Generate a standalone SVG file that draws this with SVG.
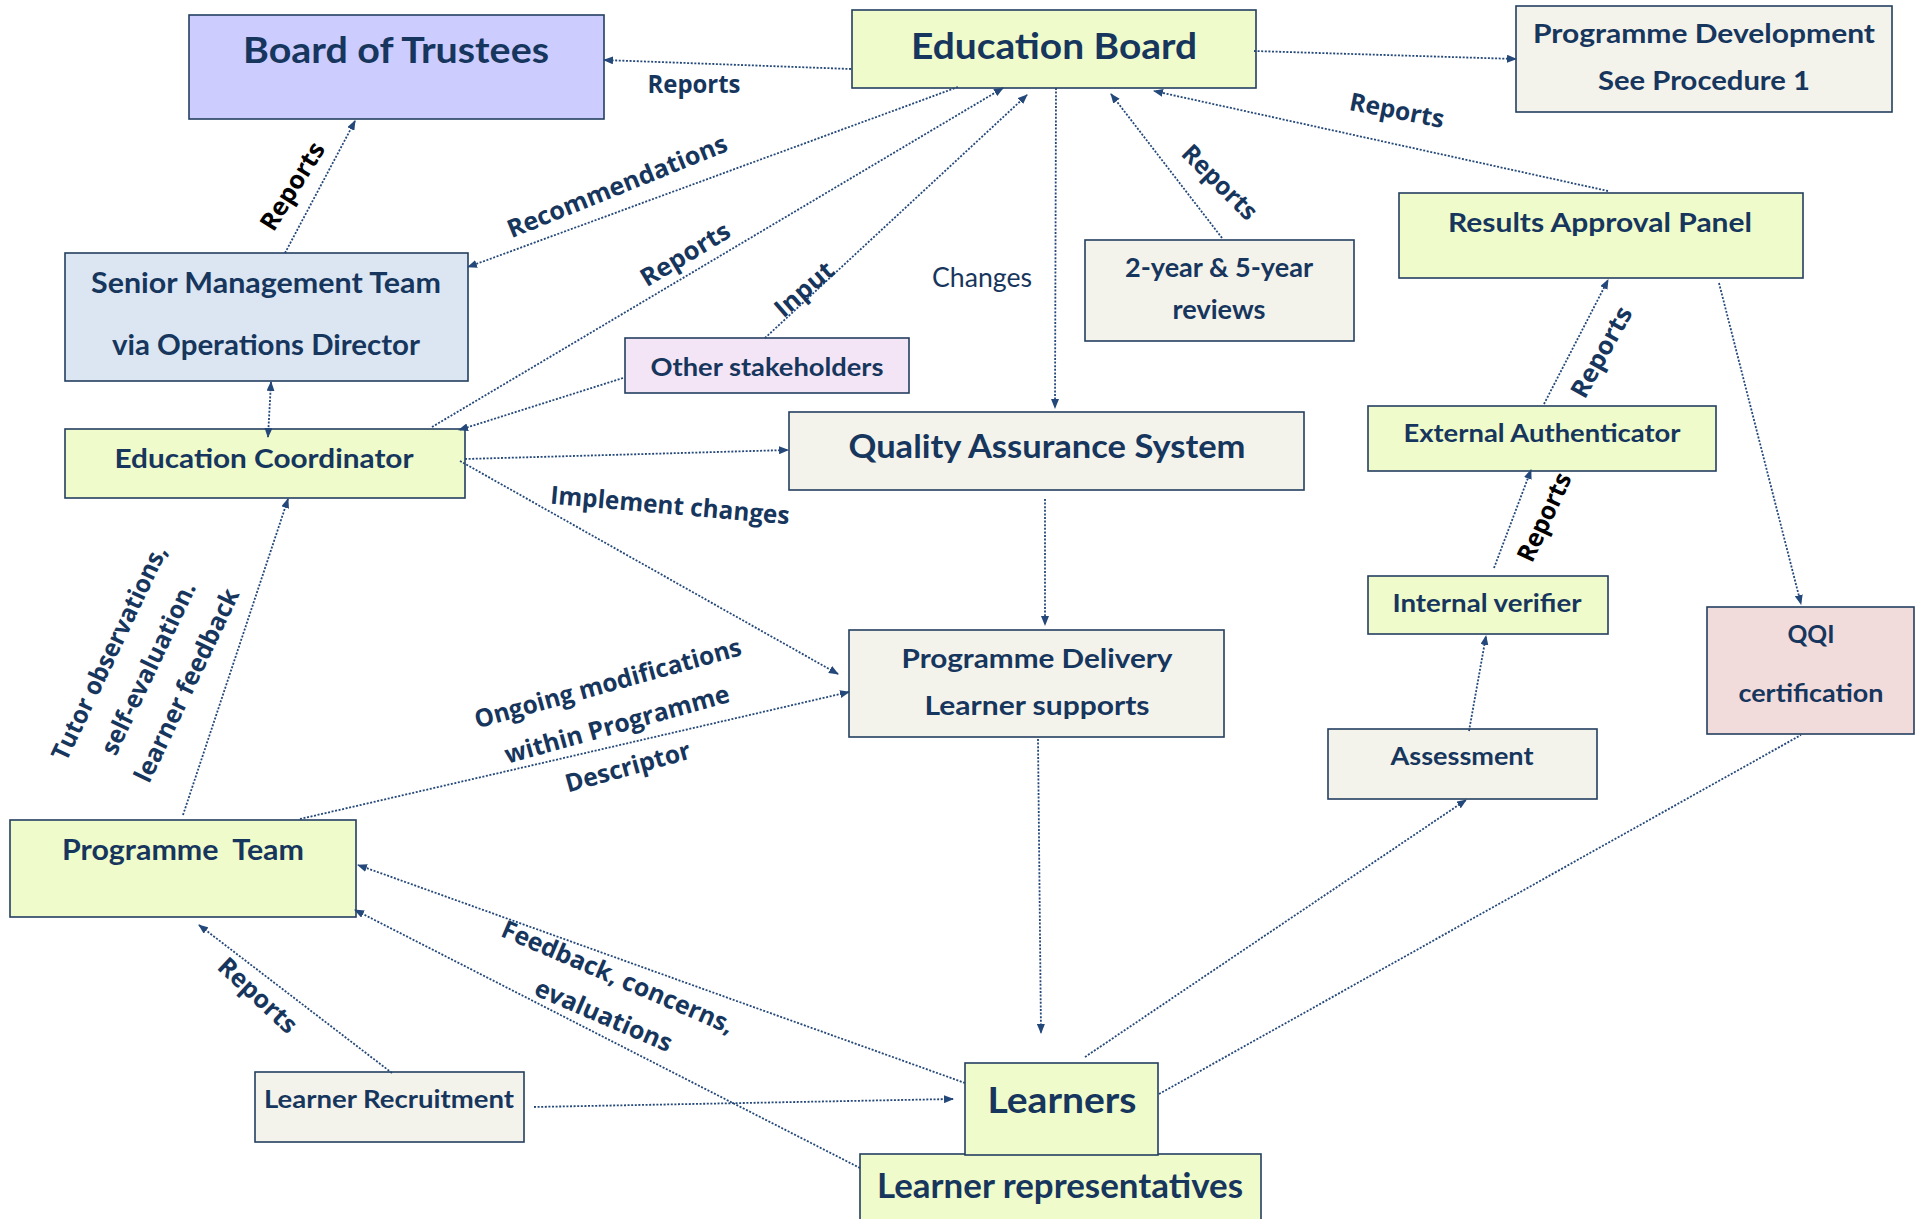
<svg xmlns="http://www.w3.org/2000/svg" width="1915" height="1219" viewBox="0 0 1915 1219">
<defs>
<style>
.box{stroke:#243f60;stroke-width:1.6}
.yg{fill:#f0fbcb}
.bg{fill:#f4f3eb}
.t{font-family:Lato,"Liberation Sans",sans-serif;font-weight:700;fill:#17365d;text-anchor:middle}
.lb{font-family:"Open Sans","Liberation Sans",sans-serif;font-weight:700;font-size:25px;fill:#17365d;text-anchor:middle}
.blk{fill:#000}
.c{fill:none;stroke:#24487a;stroke-width:1.8;stroke-dasharray:2 1.6}
.a{marker-end:url(#ah)}
</style>
<marker id="ah" markerUnits="userSpaceOnUse" markerWidth="10" markerHeight="8" refX="9" refY="4" orient="auto-start-reverse">
<path d="M0,0 L10,4 L0,8 z" fill="#24487a"/>
</marker>
</defs>
<rect width="1915" height="1219" fill="#ffffff"/>

<g id="board-of-trustees">
<rect class="box" x="189" y="15" width="415" height="104" fill="#ccccff"/>
<text class="t" x="396" y="63" font-size="37" textLength="306" lengthAdjust="spacingAndGlyphs">Board of Trustees</text>
</g>
<g id="education-board">
<rect class="box yg" x="852" y="10" width="404" height="78"/>
<text class="t" x="1054" y="59" font-size="37" textLength="286" lengthAdjust="spacingAndGlyphs">Education Board</text>
</g>
<g id="programme-development">
<rect class="box bg" x="1516" y="6" width="376" height="106"/>
<text class="t" x="1704" y="43" font-size="27" textLength="342" lengthAdjust="spacingAndGlyphs">Programme Development</text>
<text class="t" x="1704" y="90" font-size="27" textLength="212" lengthAdjust="spacingAndGlyphs">See Procedure 1</text>
</g>
<g id="senior-management-team">
<rect class="box" x="65" y="253" width="403" height="128" fill="#dce6f2"/>
<text class="t" x="266" y="293" font-size="28" textLength="350" lengthAdjust="spacingAndGlyphs">Senior Management Team</text>
<text class="t" x="266" y="355" font-size="28" textLength="308" lengthAdjust="spacingAndGlyphs">via Operations Director</text>
</g>
<g id="education-coordinator">
<rect class="box yg" x="65" y="429" width="400" height="69"/>
<text class="t" x="264" y="468" font-size="27" textLength="299" lengthAdjust="spacingAndGlyphs">Education Coordinator</text>
</g>
<g id="other-stakeholders">
<rect class="box" x="625" y="338" width="284" height="55" fill="#f3e5f5"/>
<text class="t" x="767" y="376" font-size="25" textLength="233" lengthAdjust="spacingAndGlyphs">Other stakeholders</text>
</g>
<g id="quality-assurance-system">
<rect class="box bg" x="789" y="412" width="515" height="78"/>
<text class="t" x="1047" y="458" font-size="33" textLength="397" lengthAdjust="spacingAndGlyphs">Quality Assurance System</text>
</g>
<g id="reviews">
<rect class="box bg" x="1085" y="240" width="269" height="101"/>
<text class="t" x="1219" y="277" font-size="26" textLength="188" lengthAdjust="spacingAndGlyphs">2-year &amp; 5-year</text>
<text class="t" x="1219" y="319" font-size="26" textLength="93" lengthAdjust="spacingAndGlyphs">reviews</text>
</g>
<g id="results-approval-panel">
<rect class="box yg" x="1399" y="193" width="404" height="85"/>
<text class="t" x="1600" y="232" font-size="26" textLength="304" lengthAdjust="spacingAndGlyphs">Results Approval Panel</text>
</g>
<g id="external-authenticator">
<rect class="box yg" x="1368" y="406" width="348" height="65"/>
<text class="t" x="1542" y="442" font-size="25" textLength="277" lengthAdjust="spacingAndGlyphs">External Authenticator</text>
</g>
<g id="internal-verifier">
<rect class="box yg" x="1368" y="576" width="240" height="58"/>
<text class="t" x="1487" y="612" font-size="25" textLength="189" lengthAdjust="spacingAndGlyphs">Internal verifier</text>
</g>
<g id="qqi-certification">
<rect class="box" x="1707" y="607" width="207" height="127" fill="#f2dcdb"/>
<text class="t" x="1811" y="643" font-size="25" textLength="47" lengthAdjust="spacingAndGlyphs">QQI</text>
<text class="t" x="1811" y="702" font-size="25" textLength="145" lengthAdjust="spacingAndGlyphs">certification</text>
</g>
<g id="assessment">
<rect class="box bg" x="1328" y="729" width="269" height="70"/>
<text class="t" x="1462" y="765" font-size="24" textLength="143" lengthAdjust="spacingAndGlyphs">Assessment</text>
</g>
<g id="programme-delivery">
<rect class="box bg" x="849" y="630" width="375" height="107"/>
<text class="t" x="1037" y="668" font-size="27" textLength="271" lengthAdjust="spacingAndGlyphs">Programme Delivery</text>
<text class="t" x="1037" y="715" font-size="27" textLength="225" lengthAdjust="spacingAndGlyphs">Learner supports</text>
</g>
<g id="programme-team">
<rect class="box yg" x="10" y="820" width="346" height="97"/>
<text class="t" x="183" y="860" font-size="28" textLength="242" lengthAdjust="spacingAndGlyphs" xml:space="preserve">Programme  Team</text>
</g>
<g id="learner-recruitment">
<rect class="box bg" x="255" y="1072" width="269" height="70"/>
<text class="t" x="389" y="1108" font-size="25" textLength="250" lengthAdjust="spacingAndGlyphs">Learner Recruitment</text>
</g>
<g id="learner-representatives">
<rect class="box yg" x="860" y="1154" width="401" height="80"/>
<text class="t" x="1060" y="1198" font-size="34" textLength="366" lengthAdjust="spacingAndGlyphs">Learner representatives</text>
</g>
<g id="learners">
<rect class="box yg" x="965" y="1063" width="193" height="92"/>
<text class="t" x="1062" y="1113" font-size="36" textLength="149" lengthAdjust="spacingAndGlyphs">Learners</text>
</g>

<g id="connectors">
<path class="c a" d="M851,69 L604,60"/>
<path class="c a" d="M1254,51 L1516,59"/>
<path class="c a" d="M958,87 L468,267"/>
<path class="c a" d="M432,427 L1003,88"/>
<path class="c a" d="M765,338 L1027,95"/>
<path class="c a" d="M623,378 L459,430"/>
<path class="c a" d="M271,382 L268,437" marker-start="url(#ah)"/>
<path class="c a" d="M285,253 L355,121"/>
<path class="c a" d="M465,459 L788,450"/>
<path class="c a" d="M460,461 L838,674"/>
<path class="c a" d="M1056,88 L1055,408"/>
<path class="c a" d="M1045,499 L1045,625"/>
<path class="c a" d="M1038,739 L1041,1033"/>
<path class="c a" d="M183,815 L288,499"/>
<path class="c a" d="M300,819 L849,692"/>
<path class="c a" d="M965,1083 L358,865"/>
<path class="c a" d="M860,1168 L355,910"/>
<path class="c a" d="M392,1073 L199,925"/>
<path class="c a" d="M534,1107 L953,1099"/>
<path class="c a" d="M1085,1057 L1466,800"/>
<path class="c" d="M1159,1094 L1801,735"/>
<path class="c a" d="M1469,731 L1486,636"/>
<path class="c a" d="M1494,568 L1531,470"/>
<path class="c a" d="M1544,404 L1608,280"/>
<path class="c a" d="M1719,283 L1801,604"/>
<path class="c a" d="M1608,191 L1154,91"/>
<path class="c a" d="M1222,238 L1111,94"/>
</g>

<g id="labels">
<text class="lb" x="694" y="93" font-size="24" textLength="93" lengthAdjust="spacingAndGlyphs">Reports</text>
<text class="lb blk" transform="translate(292,186) rotate(-58)" y="9" textLength="99" lengthAdjust="spacingAndGlyphs">Reports</text>
<text class="lb" transform="translate(617,186) rotate(-22)" y="9" textLength="235" lengthAdjust="spacingAndGlyphs">Recommendations</text>
<text class="lb" transform="translate(685,254) rotate(-31)" y="9" textLength="100" lengthAdjust="spacingAndGlyphs">Reports</text>
<text class="lb" transform="translate(804,289) rotate(-41)" y="9" textLength="70" lengthAdjust="spacingAndGlyphs">Input</text>
<text x="982" y="287" font-family="Lato,'Liberation Sans',sans-serif" font-size="26" fill="#17365d" text-anchor="middle" textLength="100" lengthAdjust="spacingAndGlyphs">Changes</text>
<text class="lb" transform="translate(1220,182) rotate(45)" y="9" textLength="95" lengthAdjust="spacingAndGlyphs">Reports</text>
<text class="lb" transform="translate(1397,110) rotate(11)" y="9" textLength="96" lengthAdjust="spacingAndGlyphs">Reports</text>
<text class="lb" transform="translate(1601,352) rotate(-61)" y="9" textLength="100" lengthAdjust="spacingAndGlyphs">Reports</text>
<text class="lb blk" transform="translate(1544,517) rotate(-65)" y="9" textLength="95" lengthAdjust="spacingAndGlyphs">Reports</text>
<text class="lb" transform="translate(670,505) rotate(5)" y="9" textLength="240" lengthAdjust="spacingAndGlyphs">Implement changes</text>
<g transform="translate(148,668) rotate(-64.5)">
<text class="lb" x="-3" y="-33" textLength="235" lengthAdjust="spacingAndGlyphs">Tutor observations,</text>
<text class="lb" x="0" y="9" textLength="188" lengthAdjust="spacingAndGlyphs">self-evaluation.</text>
<text class="lb" x="1" y="51" textLength="211" lengthAdjust="spacingAndGlyphs">learner feedback</text>
</g>
<g transform="translate(617,724) rotate(-15.5)">
<text class="lb" x="2" y="-33" textLength="276" lengthAdjust="spacingAndGlyphs">Ongoing modifications</text>
<text class="lb" x="0" y="9" textLength="232" lengthAdjust="spacingAndGlyphs">within Programme</text>
<text class="lb" x="-1" y="53" textLength="129" lengthAdjust="spacingAndGlyphs">Descriptor</text>
</g>
<g transform="translate(612,996) rotate(23.2)">
<text class="lb" x="-2" y="-11" textLength="250" lengthAdjust="spacingAndGlyphs">Feedback, concerns,</text>
<text class="lb" x="0" y="30" textLength="147" lengthAdjust="spacingAndGlyphs">evaluations</text>
</g>
<text class="lb" transform="translate(258,995) rotate(43)" y="9" textLength="98" lengthAdjust="spacingAndGlyphs">Reports</text>
</g>
</svg>
